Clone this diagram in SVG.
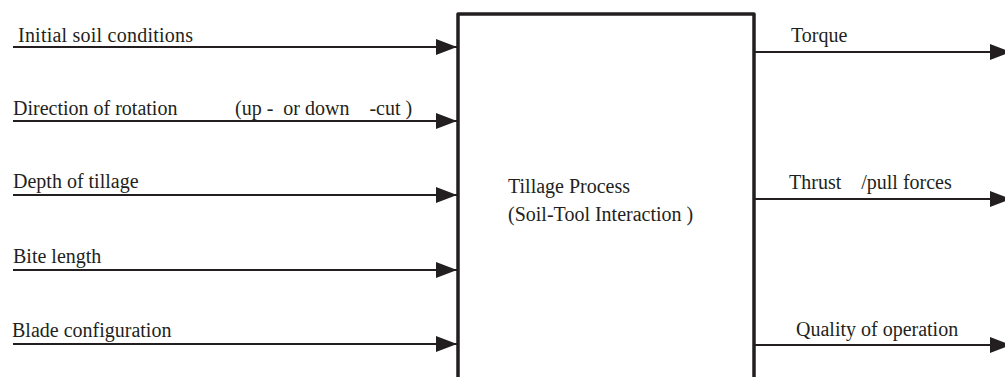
<svg xmlns="http://www.w3.org/2000/svg" width="1005" height="377" viewBox="0 0 1005 377">
<style>
.ln{stroke:#231f20;stroke-width:2.2;fill:none}
.t{font-family:'Liberation Serif','Times New Roman',Times,'DejaVu Serif',serif;font-size:20px;fill:#231f20}
</style>
<defs>
<marker id="ah" markerUnits="userSpaceOnUse" markerWidth="22" markerHeight="16" refX="21" refY="8" orient="auto">
<path d="M0,0 L21,8 L0,16 Z" fill="#231f20"/>
</marker>
</defs>
<rect width="1005" height="377" fill="#fff"/>
<g id="process">
<path d="M458,380 V14 H754 V380" fill="none" stroke="#231f20" stroke-width="3.5" stroke-linejoin="round"/>
<text class="t" font-family="Liberation Serif, serif" x="508" y="193">Tillage Process</text>
<text class="t" font-family="Liberation Serif, serif" x="508" y="221" xml:space="preserve">(Soil-Tool Interaction )</text>
</g>
<g id="connectors">
<line class="ln" x1="13" y1="47" x2="457" y2="47" marker-end="url(#ah)"/>
<line class="ln" x1="13" y1="121" x2="457" y2="121" marker-end="url(#ah)"/>
<line class="ln" x1="13" y1="195" x2="457" y2="195" marker-end="url(#ah)"/>
<line class="ln" x1="13" y1="270" x2="457" y2="270" marker-end="url(#ah)"/>
<line class="ln" x1="13" y1="344" x2="457" y2="344" marker-end="url(#ah)"/>
<line class="ln" x1="755" y1="52" x2="1011" y2="52" marker-end="url(#ah)"/>
<line class="ln" x1="755" y1="199" x2="1011" y2="199" marker-end="url(#ah)"/>
<line class="ln" x1="755" y1="345" x2="1011" y2="345" marker-end="url(#ah)"/>
</g>
<g id="labels" class="t" font-family="Liberation Serif, serif">
<text x="18" y="42" textLength="175" lengthAdjust="spacing">Initial soil conditions</text>
<text x="13" y="115">Direction of rotation</text>
<text x="235" y="115" xml:space="preserve">(up -  or down    -cut )</text>
<text x="13" y="188">Depth of tillage</text>
<text x="13" y="263">Bite length</text>
<text x="12" y="337">Blade configuration</text>
<text x="791" y="42">Torque</text>
<text x="789" y="189" xml:space="preserve">Thrust    /pull forces</text>
<text x="796" y="336">Quality of operation</text>
</g>
</svg>
